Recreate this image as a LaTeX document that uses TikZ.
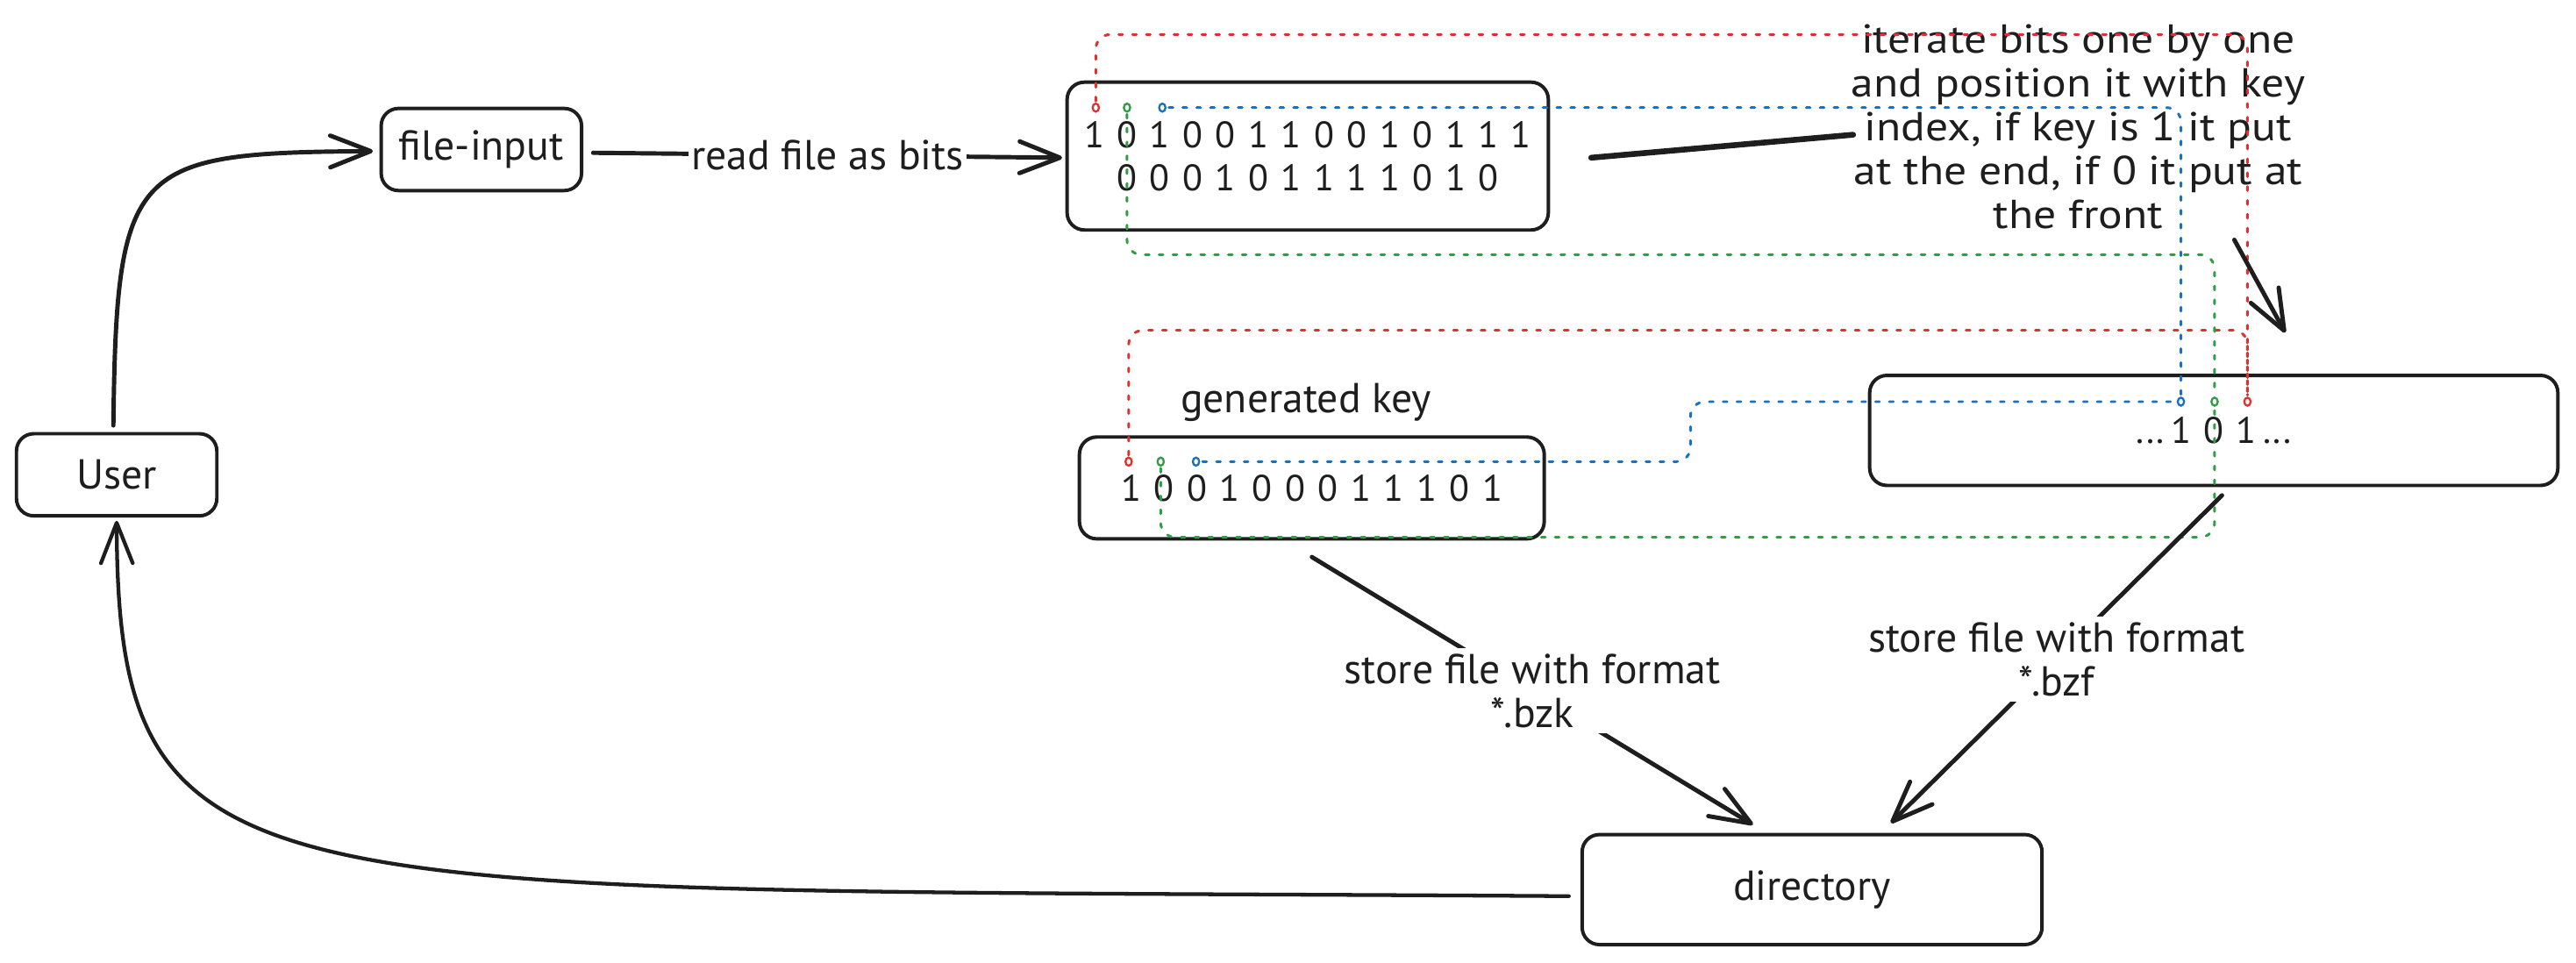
\documentclass[tikz,border=0pt]{standalone}
\usepackage{fontspec}
\setmainfont{PT Sans}
\newfontfamily\widefont[FakeStretch=1.12]{PT Sans}
\usetikzlibrary{arrows.meta,calc}

\definecolor{ink}{HTML}{1E1E1E}
\definecolor{tracered}{HTML}{E03131}
\definecolor{tracegreen}{HTML}{2F9E44}
\definecolor{traceblue}{HTML}{1971C2}

% one drawing unit is 0.02cm
\newlength\unitpx
\setlength\unitpx{0.56905pt}

% a string of bits set in equally spaced cells
\def\bitrow#1{\bitrowstep#1\relax}
\def\bitrowstep#1{\ifx\relax#1\else\makebox[20\unitpx]{#1}\expandafter\bitrowstep\fi}

\newcommand\labelfont{\fontsize{14.5}{15.2}\selectfont}
\newcommand\bitfont{\fontsize{12.8}{14.8}\selectfont}
\newcommand\notefont{\widefont\fontsize{14}{15.2}\selectfont}

\tikzset{
  box/.style={draw=ink, line width=1.2pt, rounded corners=6pt, inner sep=0pt,
    text=ink, font=\labelfont, align=center},
  lbl/.style={text=ink, font=\labelfont, align=center},
  conn/.style={draw=ink, line width=1.5pt, line cap=round, line join=round},
  arr/.style={conn, -{Straight Barb[length=14pt,width=11pt,round]}},
  trace/.style={line width=0.9pt, dash pattern=on 1.4pt off 3.4pt,
    line cap=round, rounded corners=5pt},
  marker/.style={line width=0.7pt, fill=white}
}

\begin{document}
\begin{tikzpicture}[x=0.02cm, y=-0.02cm]
  \fill[white] (0,0) rectangle (1568,586);
  \useasboundingbox (0,0) rectangle (1568,586);

  % boxes
  \node[box, minimum width=122\unitpx, minimum height=50\unitpx] (user) at (71,289) {User};
  \node[box, minimum width=122\unitpx, minimum height=50\unitpx] (input) at (293,91) {file-input};
  \node[box, minimum width=293\unitpx, minimum height=90\unitpx, font=\bitfont] (bits) at (796,95)
        {\bitrow{10100110010111}\\\bitrow{000101111010}};
  \node[box, minimum width=283\unitpx, minimum height=62\unitpx, font=\bitfont] (key) at (798.5,297)
        {\bitrow{100100011101}};
  \node[box, minimum width=419\unitpx, minimum height=67\unitpx, font=\bitfont] (stream) at (1347.5,262)
        {...\bitrow{101}...};
  \node[box, minimum width=280\unitpx, minimum height=67\unitpx] (dir) at (1103,541.5) {directory};

  % free labels
  \node[lbl] (keylabel) at (795,245) {generated key};
  \node[lbl, font=\notefont] (note) at (1265,77)
        {iterate bits one by one\\and position it with key\\index, if key is 1 it put\\at the end, if 0 it put at\\the front};

  % bit markers
  \coordinate (r1) at (667,65.5);
  \coordinate (g1) at (686,65.5);
  \coordinate (b1) at (707.5,65.5);
  \coordinate (r2) at (687,281);
  \coordinate (g2) at (706.5,281);
  \coordinate (b2) at (728,281);
  \coordinate (rs) at (1368,244.5);
  \coordinate (gs) at (1348,244.5);
  \coordinate (bs) at (1327.5,244.5);

  % traces of the first three bits
  \draw[trace, tracered] ($(r1)+(0,-4)$) |- (1368,21) -- ($(rs)+(0,-4)$);
  \draw[trace, tracered] ($(r2)+(0,-4)$) |- (1368,201) -- ($(rs)+(0,-4)$);
  \draw[trace, tracegreen] ($(g1)+(0,4)$) |- (1348,155) -- ($(gs)+(0,-4)$);
  \draw[trace, tracegreen] ($(g2)+(0,4)$) |- (1348,327) -- ($(gs)+(0,4)$);
  \draw[trace, traceblue] ($(b1)+(4,0)$) -| ($(bs)+(0,-4)$);
  \draw[trace, traceblue] ($(b2)+(4,0)$) -- (1029,281) |- ($(bs)+(-4,0)$);

  \foreach \m/\c in {r1/tracered, g1/tracegreen, b1/traceblue,
                     r2/tracered, g2/tracegreen, b2/traceblue,
                     rs/tracered, gs/tracegreen, bs/traceblue}
    \draw[marker, draw=\c] (\m) ellipse [x radius=1.1pt, y radius=1.4pt];

  % connectors
  \draw[arr] ($(user.north)+(-2,-4)$) .. controls (71,100) and (80,93) .. ($(input.west)+(-4,1)$);
  \draw[arr] ($(input.east)+(6,2)$) -- node[lbl, fill=white, inner sep=1pt] (readlabel) {read file as bits}
        ($(bits.west)+(-2,1)$);
  \draw[conn, line width=2pt] ($(bits.east)+(25,1)$) -- ($(note.center)+(-137,5)$);
  \draw[arr] ($(note.center)+(95,69)$) -- ($(stream.north)+(43.5,-25)$);
  \draw[arr] ($(key.south)+(0,10)$) -- node[lbl, fill=white, inner sep=2pt] (bzk)
        {store file with format\\*.bzk} ($(dir.north west)+(105,-5)$);
  \draw[arr] ($(stream.south)+(5,5)$) -- node[lbl, fill=white, inner sep=2pt] (bzf)
        {store file with format\\*.bzf} ($(dir.north west)+(189,-6)$);
  \draw[arr, line width=1.3pt] ($(dir.west)+(-7,4)$) .. controls (150,540) and (72,560) .. ($(user.south)+(0,2)$);
\end{tikzpicture}
\end{document}
